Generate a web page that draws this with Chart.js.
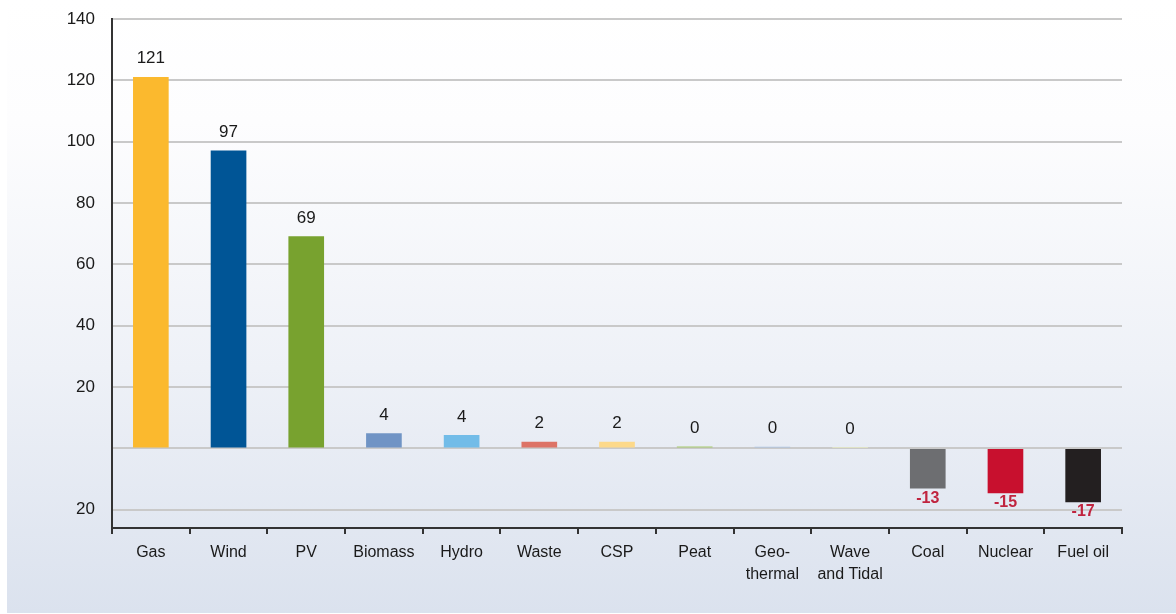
<!DOCTYPE html>
<html>
<head>
<meta charset="utf-8">
<script src="https://cdn.jsdelivr.net/npm/chart.js@4.4.0/dist/chart.umd.min.js"></script>
<style>
  html, body { margin: 0; padding: 0; background: #fff; }
  #wrap { position: relative; width: 1176px; height: 614px; }
  #bg {
    position: absolute; left: 7px; top: 0; width: 1169px; height: 613px;
    background: linear-gradient(to bottom, #ffffff 0%, #fdfdfe 20%, #eef1f7 60%, #dbe2ee 100%);
  }
  #chart { position: absolute; left: 0; top: 0; }
</style>
</head>
<body>
<div id="wrap">
  <div id="bg"></div>
  <canvas id="chart" width="1176" height="614"></canvas>
</div>
<script>
  // categories and values
  const categories = ['Gas', 'Wind', 'PV', 'Biomass', 'Hydro', 'Waste', 'CSP', 'Peat',
    ['Geo-', 'thermal'], ['Wave', 'and Tidal'], 'Coal', 'Nuclear', 'Fuel oil'];
  const values = [121, 97, 69, 4.8, 4.2, 2, 2, 0.5, 0.4, 0.3, -13, -14.6, -17.5];
  const valueLabels = ['121', '97', '69', '4', '4', '2', '2', '0', '0', '0', '-13', '-15', '-17'];
  const barColors = ['#fbb92e', '#005596', '#78a22f', '#7094c5', '#72bce8', '#dd7366', '#fdd98a',
    '#a5c96a', '#a9c1e3', '#e6eac4', '#6d6e71', '#c8102e', '#231f20'];
  const yTicks = [-20, 0, 20, 40, 60, 80, 100, 120, 140];

  const FONT = '"Liberation Sans", Arial, sans-serif';
  const GRID = '#c9c9c9';
  const AXIS = '#333333';

  /* ── value labels above / below bars ─────────────────────────────────── */
  const valueLabelPlugin = {
    id: 'valueLabels',
    afterDatasetsDraw(chart) {
      const ctx = chart.ctx;
      const meta = chart.getDatasetMeta(0);
      ctx.save();
      ctx.textAlign = 'center';
      meta.data.forEach((bar, i) => {
        if (values[i] >= 0) {
          ctx.font = '17px ' + FONT;
          ctx.fillStyle = '#1a1a1a';
          ctx.textBaseline = 'bottom';
          ctx.fillText(valueLabels[i], bar.x, bar.y - 10);
        } else {
          ctx.font = 'bold 16px ' + FONT;
          ctx.fillStyle = '#c0243f';
          ctx.textBaseline = 'top';
          ctx.fillText(valueLabels[i], bar.x, bar.y + 2);
        }
      });
      ctx.restore();
    }
  };

  new Chart(document.getElementById('chart').getContext('2d'), {
    type: 'bar',
    data: {
      labels: categories,
      datasets: [{
        data: values,
        backgroundColor: barColors,
        borderWidth: 0,
        barThickness: 35
      }]
    },
    options: {
      responsive: false,
      animation: false,
      layout: { padding: { top: 19, right: 54, bottom: 0, left: 0 } },
      plugins: {
        legend: { display: false },
        tooltip: { enabled: false }
      },
      scales: {
        x: {
          grid: { offset: true, drawOnChartArea: false, color: AXIS, lineWidth: 2, tickLength: 6 },
          border: { color: AXIS, width: 2 },
          ticks: {
            color: '#1a1a1a', font: { family: FONT, size: 16, lineHeight: 1.35 },
            padding: 8, maxRotation: 0, autoSkip: false
          },
          afterFit(scale) { scale.height = 86; scale.paddingLeft = 0; scale.paddingRight = 0; }
        },
        y: {
          min: -26,
          max: 140,
          afterBuildTicks(scale) { scale.ticks = yTicks.map(v => ({ value: v })); },
          grid: { color: GRID, lineWidth: 2, drawTicks: false },
          border: { color: AXIS, width: 2 },
          ticks: {
            color: '#1a1a1a',
            font: { family: FONT, size: 17 },
            padding: 17,
            callback: v => (v === 0 ? '' : String(Math.abs(v)))
          },
          afterFit(scale) { scale.width = 112; scale.paddingTop = 0; scale.paddingBottom = 0; }
        }
      }
    },
    plugins: [valueLabelPlugin]
  });
</script>
</body>
</html>
